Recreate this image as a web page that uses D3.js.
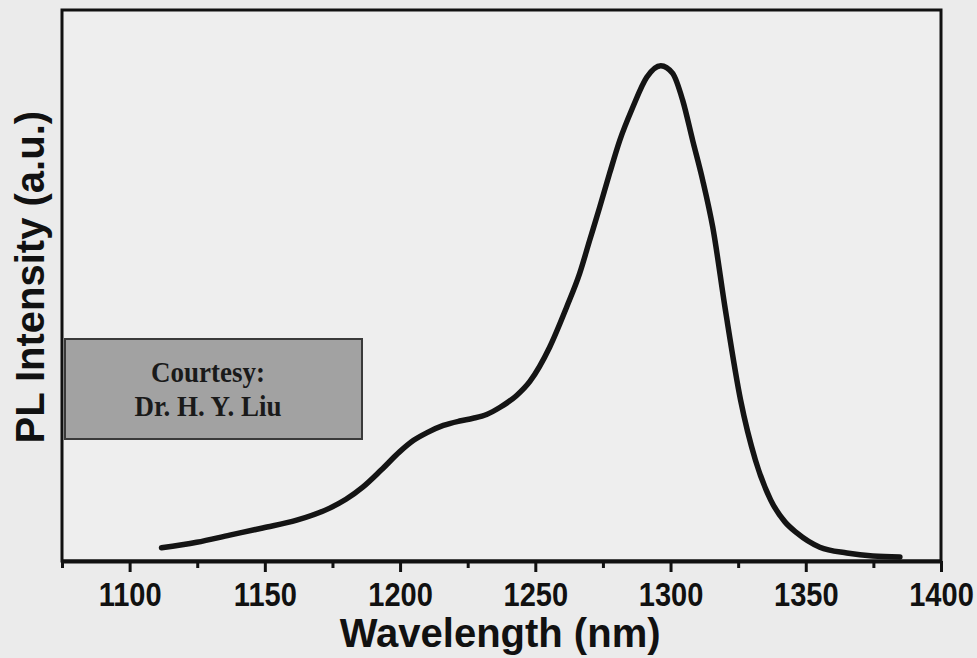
<!DOCTYPE html>
<html>
<head>
<meta charset="utf-8">
<script src="https://cdn.jsdelivr.net/npm/d3@7/dist/d3.min.js"></script>
<style>
  body { margin: 0; background: #ebebeb; }
  svg { display: block; }
  .tick-label { font-family: "Liberation Sans", Arial, sans-serif; font-weight: bold; fill: #111; }
  .axis-title { font-family: "Liberation Sans", Arial, sans-serif; font-weight: bold; fill: #111; }
  .note { font-family: "Liberation Serif", "Times New Roman", serif; font-weight: bold; fill: #1a1a1a; }
</style>
</head>
<body>
<div id="chart"></div>
<script>
// PL spectrum (wavelength in nm, intensity in a.u.)
var wavelength = [1111.8, 1124.8, 1137.0, 1149.2, 1161.8, 1174.0, 1180.0, 1186.2, 1193.0, 1199.8,
                  1205.0, 1210.0, 1216.0, 1222.0, 1227.0, 1232.0, 1237.0, 1243.0, 1248.0, 1255.3,
                  1261.6, 1266.4, 1270.1, 1273.8, 1277.5, 1281.2, 1286.0, 1291.2, 1296.4, 1300.8,
                  1304.5, 1308.2, 1311.9, 1315.6, 1320.3, 1325.9, 1331.4, 1337.0, 1342.3, 1346.7,
                  1355.2, 1365.2, 1374.8, 1384.8];
var intensity  = [2.4, 3.4, 4.7, 6.0, 7.4, 9.6, 11.2, 13.4, 16.5, 19.8,
                  21.9, 23.3, 24.6, 25.4, 25.9, 26.6, 27.9, 30.0, 32.6, 38.8,
                  46.1, 52.2, 58.2, 64.2, 70.4, 76.3, 82.3, 87.8, 89.9, 88.5,
                  83.6, 76.3, 69.1, 60.6, 45.5, 29.2, 18.3, 11.1, 7.1, 5.1,
                  2.5, 1.45, 0.9, 0.73];

var majorTicks = [1100, 1150, 1200, 1250, 1300, 1350, 1400];
var minorTicks = [1075, 1125, 1175, 1225, 1275, 1325, 1375];

// set the dimensions and margins of the graph
var margin = {top: 10, right: 36, bottom: 97, left: 62},
    width = 977 - margin.left - margin.right,
    height = 658 - margin.top - margin.bottom;

var x = d3.scaleLinear().domain([1075, 1400]).range([0, width]);
var y = d3.scaleLinear().domain([0, 100]).range([height, 0]);

var data = wavelength.map(function(w, i) { return {w: w, v: intensity[i]}; });

var svg = d3.select("#chart").append("svg")
    .attr("width", width + margin.left + margin.right)
    .attr("height", height + margin.top + margin.bottom)
  .append("g")
    .attr("transform", "translate(" + margin.left + "," + margin.top + ")");

// plot area
svg.append("rect")
    .attr("width", width)
    .attr("height", height)
    .attr("fill", "#eeeeee");

// the spectrum
var line = d3.line()
    .x(function(d) { return x(d.w); })
    .y(function(d) { return y(d.v); })
    .curve(d3.curveMonotoneX);

svg.append("path")
    .datum(data)
    .attr("fill", "none")
    .attr("stroke", "#141414")
    .attr("stroke-width", 5.5)
    .attr("stroke-linejoin", "round")
    .attr("stroke-linecap", "round")
    .attr("d", line);

// frame
svg.append("rect")
    .attr("width", width)
    .attr("height", height)
    .attr("fill", "none")
    .attr("stroke", "#111")
    .attr("stroke-width", 3);

// bottom axis: major ticks with labels, minor ticks between
var xAxis = svg.append("g")
    .attr("transform", "translate(0," + height + ")")
    .call(d3.axisBottom(x).tickValues(majorTicks).tickSize(11).tickSizeOuter(0).tickFormat(d3.format("d")));
xAxis.select(".domain").attr("stroke", "#111").attr("stroke-width", 4);
xAxis.selectAll(".tick line").attr("stroke", "#111").attr("stroke-width", 3);
xAxis.selectAll(".tick text")
    .attr("class", "tick-label")
    .attr("font-size", 33)
    .attr("dy", 0)
    .attr("y", 0)
    .attr("transform", "translate(0,45) scale(0.88,1)");

svg.append("g")
    .attr("transform", "translate(0," + height + ")")
    .call(d3.axisBottom(x).tickValues(minorTicks).tickSize(7).tickFormat(""))
  .call(function(g) {
    g.select(".domain").remove();
    g.selectAll(".tick line").attr("stroke", "#111").attr("stroke-width", 3);
  });

// axis titles
svg.append("text")
    .attr("class", "axis-title")
    .attr("text-anchor", "middle")
    .attr("font-size", 40)
    .attr("transform", "translate(" + x(1237) + "," + (height + 86) + ")")
    .text("Wavelength (nm)");

svg.append("text")
    .attr("class", "axis-title")
    .attr("text-anchor", "middle")
    .attr("font-size", 40)
    .attr("transform", "translate(-18," + y(51.5) + ") rotate(-90)")
    .text("PL Intensity (a.u.)");

// courtesy note box
var note = svg.append("g").attr("transform", "translate(3,329)");
note.append("rect")
    .attr("width", 297)
    .attr("height", 100)
    .attr("fill", "#a2a2a2")
    .attr("stroke", "#3a3a3a")
    .attr("stroke-width", 2);
note.append("text")
    .attr("class", "note")
    .attr("text-anchor", "middle")
    .attr("font-size", 30)
    .attr("transform", "translate(143,43) scale(0.9,1)")
    .text("Courtesy:");
note.append("text")
    .attr("class", "note")
    .attr("text-anchor", "middle")
    .attr("font-size", 30)
    .attr("transform", "translate(143,77) scale(0.9,1)")
    .text("Dr. H. Y. Liu");
</script>
</body>
</html>
